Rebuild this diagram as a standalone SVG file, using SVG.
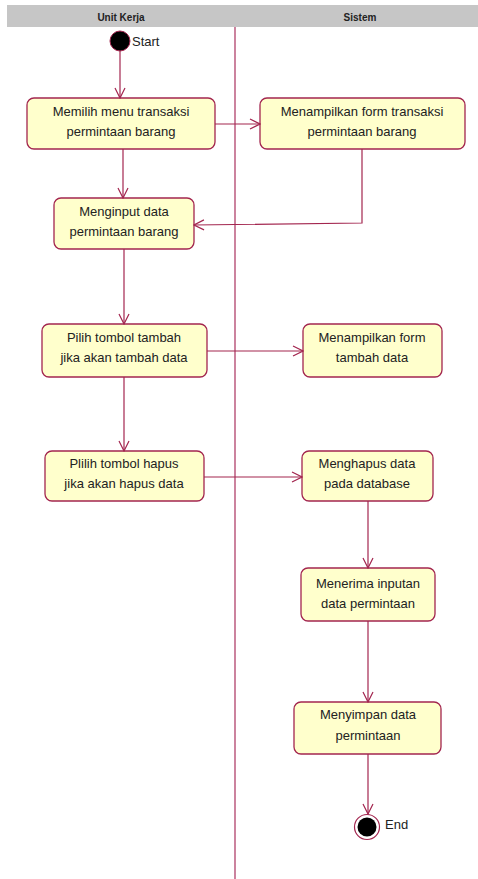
<svg xmlns="http://www.w3.org/2000/svg" width="478" height="879" viewBox="0 0 478 879">
<style>
.node rect{fill:#FFFFCC;stroke:#A3264F;stroke-width:1.3}
.t{font-family:"Liberation Sans",Arial,sans-serif;font-size:13px;fill:#222;text-anchor:middle}
.h{font-family:"Liberation Sans",Arial,sans-serif;font-size:10px;font-weight:bold;fill:#222;text-anchor:middle}
.lbl{font-family:"Liberation Sans",Arial,sans-serif;font-size:13px;fill:#222}
#edges path{fill:none;stroke:#A3264F;stroke-width:1.2}
</style>
<defs>
<marker id="arr" viewBox="0 0 12 12" refX="11" refY="6" markerWidth="12" markerHeight="12" markerUnits="userSpaceOnUse" orient="auto">
<path d="M1,1 L11,6 L1,11" fill="none" stroke="#A3264F" stroke-width="1.2"/>
</marker>
</defs>
<rect width="478" height="879" fill="#FFFFFF"/>
<g id="lanes">
<rect x="7" y="5" width="471" height="22" fill="#C6C6C6"/>
<text class="h" x="121" y="21">Unit Kerja</text>
<text class="h" x="360" y="21">Sistem</text>
<line x1="235" y1="27" x2="235" y2="879" stroke="#B0406A" stroke-width="1.3"/>
</g>
<g id="start">
<circle cx="120" cy="41" r="10" fill="#000" stroke="#A3264F" stroke-width="1"/>
<text class="lbl" x="132" y="46">Start</text>
</g>
<g id="n1" class="node"><rect x="27" y="98" width="188" height="51" rx="7"/><text class="t" x="121" y="116">Memilih menu transaksi</text><text class="t" x="121" y="136">permintaan barang</text></g>
<g id="n2" class="node"><rect x="260" y="98" width="205" height="51" rx="7"/><text class="t" x="362" y="116">Menampilkan form transaksi</text><text class="t" x="362" y="136">permintaan barang</text></g>
<g id="n3" class="node"><rect x="54" y="198" width="140" height="51" rx="7"/><text class="t" x="124" y="216">Menginput data</text><text class="t" x="124" y="236">permintaan barang</text></g>
<g id="n4" class="node"><rect x="42" y="324" width="165" height="53" rx="7"/><text class="t" x="124" y="342">Pilih tombol tambah</text><text class="t" x="124" y="362">jika akan tambah data</text></g>
<g id="n5" class="node"><rect x="303" y="324" width="139" height="53" rx="7"/><text class="t" x="372" y="342">Menampilkan form</text><text class="t" x="372" y="362">tambah data</text></g>
<g id="n6" class="node"><rect x="45" y="451" width="159" height="50" rx="7"/><text class="t" x="124" y="468">Plilih tombol hapus</text><text class="t" x="124" y="488">jika akan hapus data</text></g>
<g id="n7" class="node"><rect x="302" y="451" width="131" height="50" rx="7"/><text class="t" x="367" y="468">Menghapus data</text><text class="t" x="367" y="488">pada database</text></g>
<g id="n8" class="node"><rect x="301" y="568" width="134" height="53" rx="7"/><text class="t" x="368" y="588">Menerima inputan</text><text class="t" x="368" y="608">data permintaan</text></g>
<g id="n9" class="node"><rect x="294" y="702" width="147" height="52" rx="7"/><text class="t" x="368" y="719">Menyimpan data</text><text class="t" x="368" y="740">permintaan</text></g>
<g id="end">
<circle cx="367" cy="827" r="12.5" fill="#FFFFFF" stroke="#A3264F" stroke-width="1.2"/>
<circle cx="367" cy="827" r="9.5" fill="#000"/>
<text class="lbl" x="385" y="829">End</text>
</g>
<g id="edges">
<path d="M120,51 L120,98" marker-end="url(#arr)"/>
<path d="M215,124 L260,124" marker-end="url(#arr)"/>
<path d="M123,149 L123,198" marker-end="url(#arr)"/>
<path d="M362,149 L362,223 L194,225" marker-end="url(#arr)"/>
<path d="M124,249 L124,324" marker-end="url(#arr)"/>
<path d="M207,351 L303,351" marker-end="url(#arr)"/>
<path d="M124,377 L124,451" marker-end="url(#arr)"/>
<path d="M204,477 L302,477" marker-end="url(#arr)"/>
<path d="M368,501 L368,568" marker-end="url(#arr)"/>
<path d="M368,621 L368,702" marker-end="url(#arr)"/>
<path d="M368,754 L368,814" marker-end="url(#arr)"/>
</g>
</svg>
